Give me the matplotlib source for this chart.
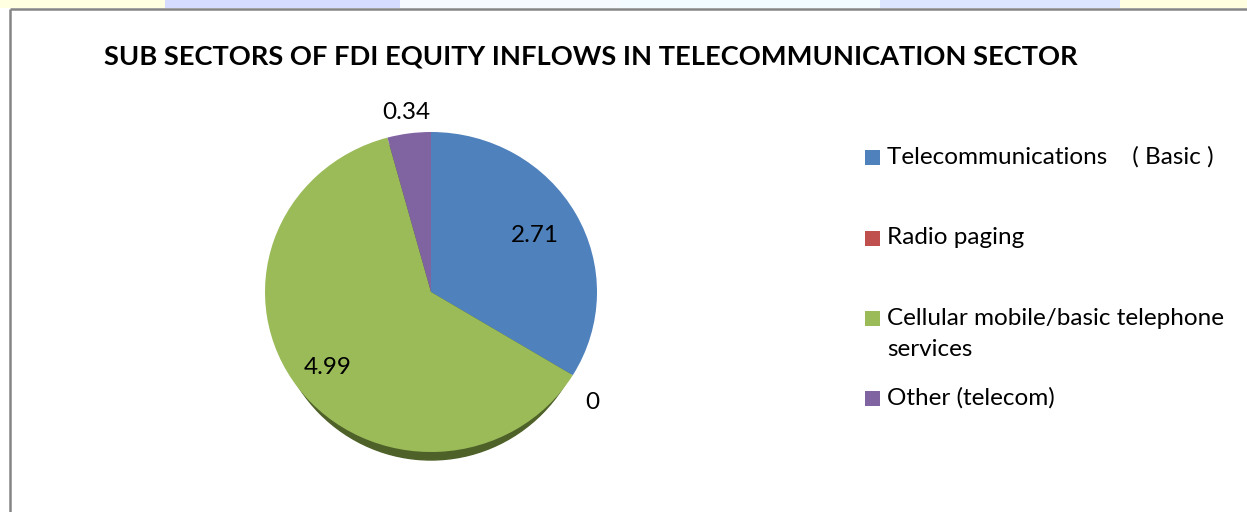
import numpy as np
import matplotlib.pyplot as plt
from matplotlib.patches import Rectangle, Ellipse

# data
sectors = ['Telecommunications    ( Basic )', 'Radio paging',
           'Cellular mobile/basic telephone\nservices', 'Other (telecom)']
values = [2.71, 0, 4.99, 0.34]
value_labels = ['2.71', '0', '4.99', '0.34']
colors = ['#4F81BD', '#C0504D', '#9BBB59', '#8064A2']

W, H = 1247, 512
plt.rcParams['font.family'] = ['Lato', 'DejaVu Sans']

fig = plt.figure(figsize=(W / 100, H / 100), dpi=100)

# background layer in pixel coords (y down)
bg = fig.add_axes([0, 0, 1, 1])
bg.set_xlim(0, W)
bg.set_ylim(H, 0)
bg.axis('off')

# faint watermark strip on top
strip = [(0, 165, '#FFFFE2'), (165, 400, '#D6DCFF'), (400, 620, '#F6FAFF'),
         (620, 880, '#F2FBFF'), (880, 1120, '#DCE6FF'), (1120, W, '#FFFFE0')]
for x0, x1, c in strip:
    bg.add_patch(Rectangle((x0, 0), x1 - x0, 8, color=c, lw=0))
bg.plot([10, W], [8.5, 8.5], color='#858585', lw=1.8, solid_capstyle='butt')
bg.plot([10, 10], [8.5, H], color='#858585', lw=1.8, solid_capstyle='butt')

bg.text(591, 56, 'SUB SECTORS OF FDI EQUITY INFLOWS IN TELECOMMUNICATION SECTOR',
        ha='center', va='center', fontsize=19.6, fontweight='bold', color='black')

# pie axes (slightly squashed, like the 3D look)
cx, cy, rx, ry = 431, 292, 166, 160
pax = fig.add_axes([(cx - rx) / W, (H - cy - ry) / H, 2 * rx / W, 2 * ry / H])
pax.axis('off')
pax.add_patch(Ellipse((0, -0.05), 1.9, 2, color='#4E6128', zorder=0, clip_on=False))
wedges, _ = pax.pie(values, colors=colors, startangle=90, counterclock=False,
                    radius=1, frame=True, wedgeprops=dict(linewidth=0))
pax.set_aspect('auto')
pax.set_xlim(-1, 1)
pax.set_ylim(-1, 1)

label_r = [0.72, 1.19, 0.78, 1.13]
for w, lab, r in zip(wedges, value_labels, label_r):
    ang = np.deg2rad((w.theta1 + w.theta2) / 2)
    if lab == '0':
        ang = np.deg2rad(w.theta1 - 4)
    pax.text(r * np.cos(ang), r * np.sin(ang), lab, ha='center', va='center',
             fontsize=17.5, color='black')

# legend (marker sits on the first line of each entry)
leg_y = [157, 238, 318, 398]
for name, c, y in zip(sectors, colors, leg_y):
    bg.add_patch(Rectangle((865, y - 7), 15, 15, color=c, lw=0))
    nl = name.count('\n')
    bg.text(887, y + nl * 16, name, ha='left', va='center', fontsize=17.5,
            color='black', linespacing=1.55)

fig.savefig('out.png', dpi=100)
